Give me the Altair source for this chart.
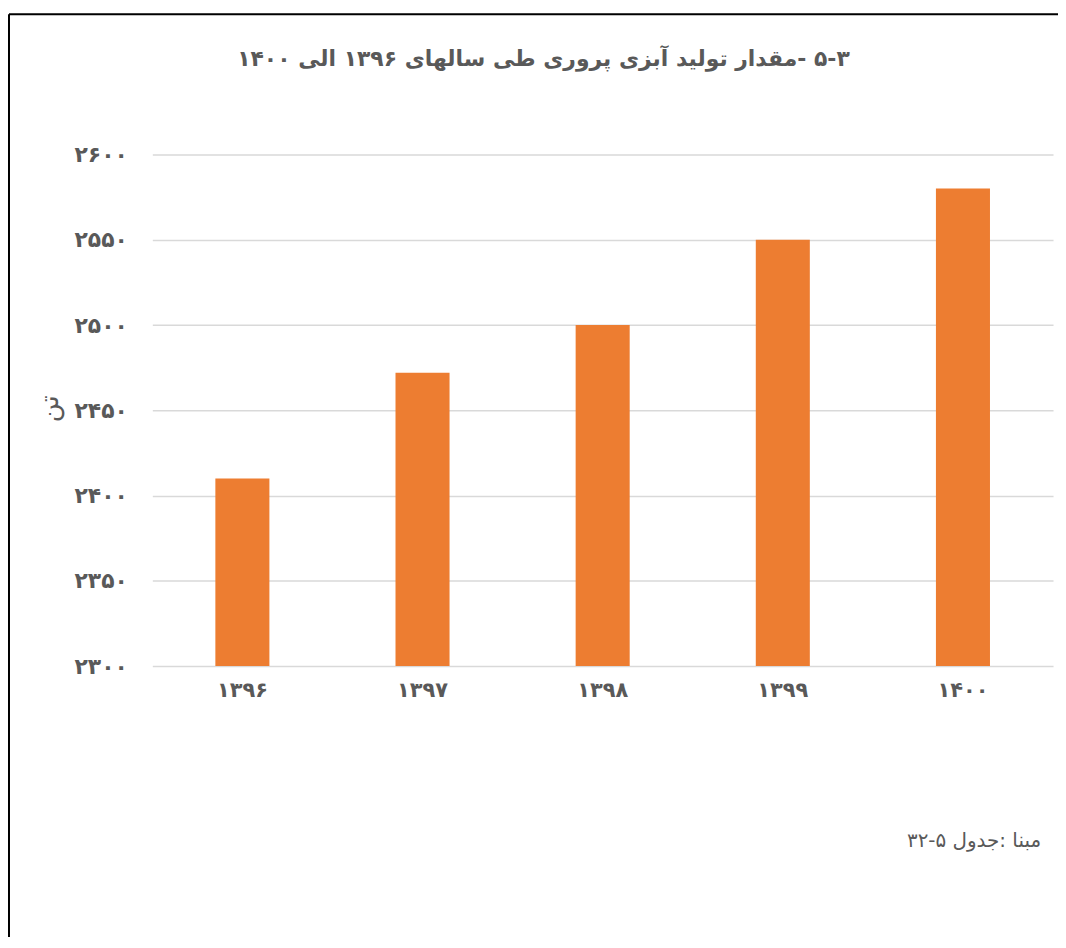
import altair as alt
import pandas as pd

RLE, PDF = "\u202B", "\u202C"

years = ["۱۳۹۶", "۱۳۹۷", "۱۳۹۸", "۱۳۹۹", "۱۴۰۰"]
production = [2410, 2472, 2500, 2550, 2580]
y_ticks = [2300, 2350, 2400, 2450, 2500, 2550, 2600]

title_text = [RLE + "۵-۳ -مقدار تولید آبزی پروری طی سالهای ۱۳۹۶ الی ۱۴۰۰" + PDF]
unit_text = "تن"
source_text = [RLE + "مبنا :جدول   ۵-۳۲" + PDF]

df = pd.DataFrame({"year": years, "value": production})

FONT = "DejaVu Sans"
GREY = "#595959"

# label expression converting latin digits to Persian digits
fa_digits = "۰۱۲۳۴۵۶۷۸۹"
expr = "datum.label"
for i, d in enumerate(fa_digits):
    expr = f"replace({expr}, regexp('{i}', 'g'), '{d}')"

bars = alt.Chart(df).mark_bar(color="#ED7D31", clip=True).encode(
    x=alt.X(
        "year:N",
        sort=years,
        title=None,
        scale=alt.Scale(paddingInner=0.7, paddingOuter=0.35),
        axis=alt.Axis(
            labelAngle=0,
            labelFont=FONT,
            labelFontSize=21,
            labelFontWeight="bold",
            labelColor=GREY,
            labelPadding=14,
            ticks=False,
            domain=False,
            grid=False,
        ),
    ),
    y=alt.Y(
        "value:Q",
        scale=alt.Scale(domain=[2300, 2600], zero=False, nice=False),
        axis=alt.Axis(
            values=y_ticks,
            format="d",
            labelExpr=expr,
            title=unit_text,
            titleFont=FONT,
            titleFontSize=26,
            titleFontWeight="normal",
            titleColor=GREY,
            titleAngle=-90,
            titleX=-103,
            titleY=255,
            titleAlign="center",
            titleBaseline="middle",
            labelFont=FONT,
            labelFontSize=22,
            labelFontWeight="bold",
            labelColor=GREY,
            labelPadding=25,
            ticks=False,
            domain=False,
            grid=True,
            gridColor="#D9D9D9",
            gridWidth=1.5,
        ),
    ),
)

title = alt.Chart(pd.DataFrame({"t": title_text})).mark_text(
    align="center", baseline="middle", font=FONT, fontSize=22,
    fontWeight="bold", color=GREY
).encode(text="t:N", x=alt.value(393), y=alt.value(-96))

source = alt.Chart(pd.DataFrame({"t": source_text})).mark_text(
    align="right", baseline="middle", font=FONT, fontSize=20, color=GREY
).encode(text="t:N", x=alt.value(893), y=alt.value(690))

frame_top = alt.Chart(pd.DataFrame({"a": [0]})).mark_rule(color="black", strokeWidth=2).encode(
    x=alt.value(-144), x2=alt.value(920), y=alt.value(-141)
)
frame_left = alt.Chart(pd.DataFrame({"a": [0]})).mark_rule(color="black", strokeWidth=2).encode(
    x=alt.value(-144), y=alt.value(-141), y2=alt.value(800)
)

chart = (
    alt.layer(bars, title, source, frame_top, frame_left)
    .properties(
        width=905,
        height=514,
        background="white",
        autosize=alt.AutoSizeParams(type="none"),
        padding={"left": 145, "top": 145, "right": 5, "bottom": 270},
    )
    .configure_view(strokeWidth=0, stroke="transparent")
)

chart.save("out.html", embed_options={"renderer": "svg", "actions": False})
